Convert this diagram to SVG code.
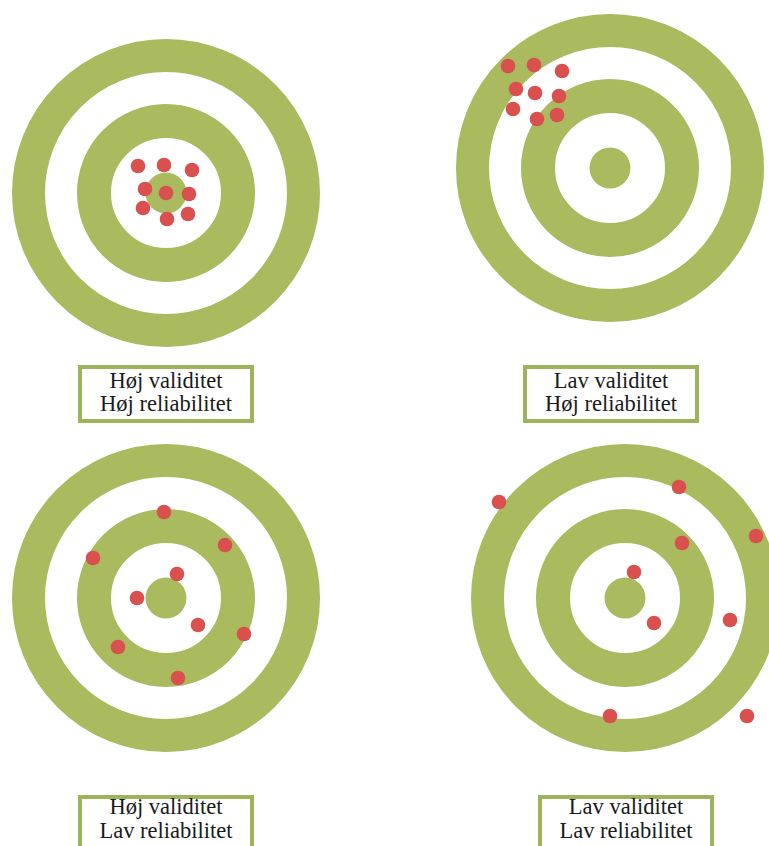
<svg xmlns="http://www.w3.org/2000/svg" width="769" height="846" viewBox="0 0 769 846">
<defs>
<style>
.ring{fill:none;stroke:#a9ba5f}
.outer{stroke-width:33}
.mid{stroke-width:34}
.bull{fill:#a9ba5f}
.dot{fill:#d9504f}
.box{fill:#fff;stroke:#9db45a;stroke-width:4}
.lbl{font-family:"Liberation Serif","Times New Roman",serif;font-size:22.5px;fill:#1a1a1a;text-anchor:middle}
</style>
<g id="target">
<circle class="ring outer" cx="0" cy="0" r="137.5"/>
<circle class="ring mid" cx="0" cy="0" r="72"/>
<circle class="bull" cx="0" cy="0" r="20.5"/>
</g>
</defs>
<rect width="769" height="846" fill="#fff"/>

<g id="t1">
<use href="#target" x="166" y="193"/>
<g class="dot">
<circle cx="138" cy="166" r="7.3"/><circle cx="164" cy="165" r="7.3"/><circle cx="192" cy="170" r="7.3"/>
<circle cx="145" cy="189" r="7.3"/><circle cx="166" cy="193" r="7.3"/><circle cx="189" cy="194" r="7.3"/>
<circle cx="143" cy="208" r="7.3"/><circle cx="167" cy="219" r="7.3"/><circle cx="188" cy="214" r="7.3"/>
</g>
</g>

<g id="t2">
<use href="#target" x="610" y="168"/>
<g class="dot">
<circle cx="508" cy="66" r="7.3"/><circle cx="534" cy="65" r="7.3"/><circle cx="562" cy="71" r="7.3"/>
<circle cx="516" cy="89" r="7.3"/><circle cx="535" cy="93" r="7.3"/><circle cx="559" cy="96" r="7.3"/>
<circle cx="513" cy="109" r="7.3"/><circle cx="537" cy="119" r="7.3"/><circle cx="557" cy="115" r="7.3"/>
</g>
</g>

<g id="t3">
<use href="#target" x="166" y="598"/>
<g class="dot">
<circle cx="164" cy="512" r="7.3"/><circle cx="225" cy="545" r="7.3"/><circle cx="93" cy="558" r="7.3"/>
<circle cx="177" cy="574" r="7.3"/><circle cx="137" cy="598" r="7.3"/><circle cx="198" cy="625" r="7.3"/>
<circle cx="244" cy="634" r="7.3"/><circle cx="118" cy="647" r="7.3"/><circle cx="178" cy="678" r="7.3"/>
</g>
</g>

<g id="t4">
<use href="#target" x="625" y="598"/>
<g class="dot">
<circle cx="499" cy="502" r="7.3"/><circle cx="679" cy="487" r="7.3"/><circle cx="756" cy="536" r="7.3"/>
<circle cx="682" cy="543" r="7.3"/><circle cx="634" cy="572" r="7.3"/><circle cx="654" cy="623" r="7.3"/>
<circle cx="730" cy="620" r="7.3"/><circle cx="610" cy="716" r="7.3"/><circle cx="747" cy="716" r="7.3"/>
</g>
</g>

<g id="label1">
<rect class="box" x="80" y="367" width="172" height="54"/>
<text class="lbl" x="166" y="388">Høj validitet</text>
<text class="lbl" x="166" y="411">Høj reliabilitet</text>
</g>
<g id="label2">
<rect class="box" x="525" y="367" width="172" height="54"/>
<text class="lbl" x="611" y="388">Lav validitet</text>
<text class="lbl" x="611" y="411">Høj reliabilitet</text>
</g>
<g id="label3">
<rect class="box" x="80" y="797" width="172" height="60"/>
<text class="lbl" x="166" y="814">Høj validitet</text>
<text class="lbl" x="166" y="838">Lav reliabilitet</text>
</g>
<g id="label4">
<rect class="box" x="540" y="797" width="172" height="60"/>
<text class="lbl" x="626" y="814">Lav validitet</text>
<text class="lbl" x="626" y="838">Lav reliabilitet</text>
</g>
<g id="connectors"/>
</svg>
